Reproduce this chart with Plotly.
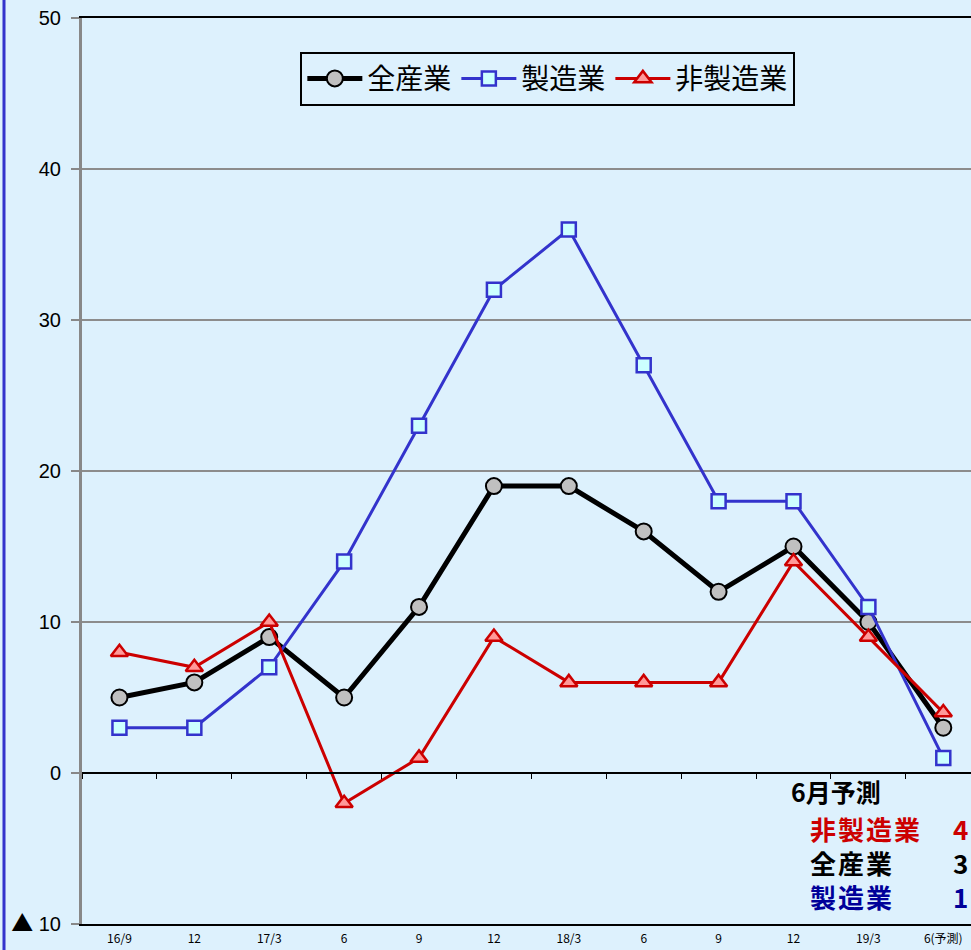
import plotly.graph_objects as go

categories = ["16/9", "12", "17/3", "6", "9", "12", "18/3", "6", "9", "12", "19/3", "6(予測)"]
all_industry = [5, 6, 9, 5, 11, 19, 19, 16, 12, 15, 10, 3]
manufacturing = [3, 3, 7, 14, 23, 32, 36, 27, 18, 18, 11, 1]
non_manufacturing = [8, 7, 10, -2, 1, 9, 6, 6, 6, 14, 9, 4]
y_tickvals = [-10, 0, 10, 20, 30, 40, 50]
y_ticktext = ["<span style='font-family:Noto Sans CJK JP;font-size:22px'>▲</span> 10",
              "0", "10", "20", "30", "40", "50"]
forecast_title = "6月予測"
forecast_labels = ["非製造業", "全産業", "製造業"]
forecast_values = ["4", "3", "1"]
forecast_colors = ["#CC0000", "black", "#000099"]

xs = list(range(len(categories)))
BG = "#DDF1FD"
JP = "Noto Sans CJK JP"

fig = go.Figure()
fig.add_trace(go.Scatter(
    x=xs, y=all_industry, name="全産業", mode="lines+markers",
    line=dict(color="black", width=5),
    marker=dict(symbol="circle", size=16, color="#C0C0C0", line=dict(color="black", width=2)),
))
fig.add_trace(go.Scatter(
    x=xs, y=manufacturing, name="製造業", mode="lines+markers",
    line=dict(color="#3333CC", width=3),
    marker=dict(symbol="square", size=14, color="#CCFFFF", line=dict(color="#3333CC", width=2.5)),
))
fig.add_trace(go.Scatter(
    x=xs, y=non_manufacturing, name="非製造業", mode="lines+markers",
    line=dict(color="#CC0000", width=3),
    marker=dict(symbol="triangle-up", size=15, color="#FF9999", line=dict(color="#CC0000", width=2.5)),
))
# invisible trace on xaxis2 for zero line with ticks
fig.add_trace(go.Scatter(x=[xs[0]], y=[0], xaxis="x2", yaxis="y", mode="markers",
                         marker=dict(opacity=0), showlegend=False, hoverinfo="skip"))

xr = [-0.5, 11.37]
fig.update_layout(
    width=971, height=950,
    margin=dict(l=82, r=0, t=18, b=26, autoexpand=False),
    paper_bgcolor=BG, plot_bgcolor=BG,
    font=dict(family=JP, color="black"),
    xaxis=dict(
        range=xr, tickvals=xs, ticktext=categories, ticks="",
        showgrid=False, zeroline=False, automargin=False,
        showline=True, linecolor="black", linewidth=2, mirror=True,
        tickfont=dict(family=JP, size=12, color="black"),
        ticklabelstandoff=3,
    ),
    xaxis2=dict(
        range=xr, overlaying="x", anchor="free", position=10 / 60,
        tickvals=[i - 0.5 for i in range(len(categories) + 1)],
        ticks="outside", ticklen=5, tickcolor="black", tickwidth=1,
        showticklabels=False, showgrid=False, zeroline=False,
        showline=True, linecolor="black", linewidth=2, automargin=False,
    ),
    yaxis=dict(
        range=[-10, 50], tickvals=y_tickvals, ticktext=y_ticktext,
        ticks="outside", ticklen=8, tickcolor="#888888", tickwidth=2,
        showgrid=True, gridcolor="#8C8C8C", gridwidth=1.5, automargin=False,
        zeroline=False, showline=True, linecolor="#888888", linewidth=3,
        tickfont=dict(family="Liberation Sans", size=20, color="black"),
        ticklabelstandoff=6,
    ),
    legend=dict(
        orientation="h", x=0.524, y=0.933, xanchor="center", yanchor="middle",
        bgcolor=BG, bordercolor="black", borderwidth=2,
        font=dict(family=JP, size=28, color="black"),
        itemwidth=55, tracegroupgap=0,
    ),
    showlegend=True,
)

# left page border
fig.add_shape(type="line", xref="paper", yref="paper",
              x0=-78 / 889, x1=-78 / 889, y0=-26 / 906, y1=1 + 18 / 906,
              line=dict(color="#3333CC", width=3))

fig.add_annotation(x=8.94, y=-1.2, xref="x", yref="y", text="<b>" + forecast_title + "</b>",
                   showarrow=False, xanchor="left", yanchor="middle",
                   font=dict(family=JP, size=25, color="black"))

sp = "letter-spacing:2px;"
lab_txt = "<br>".join(
    f"<span style='color:{c};{sp}'><b>{t}</b></span>" for t, c in zip(forecast_labels, forecast_colors))
val_txt = "<br>".join(
    f"<span style='color:{c}'><b>{v}</b></span>" for v, c in zip(forecast_values, forecast_colors))
fig.add_annotation(x=9.2, y=-5.95, xref="x", yref="y", text=lab_txt,
                   showarrow=False, xanchor="left", yanchor="middle", align="left",
                   font=dict(family=JP, size=26))
fig.add_annotation(x=11.1, y=-5.95, xref="x", yref="y", text=val_txt,
                   showarrow=False, xanchor="left", yanchor="middle", align="left",
                   font=dict(family=JP, size=26))

fig.write_html("out.html", config={"displayModeBar": False},
               post_script="document.body.style.margin='0';document.body.style.overflow='hidden';")
